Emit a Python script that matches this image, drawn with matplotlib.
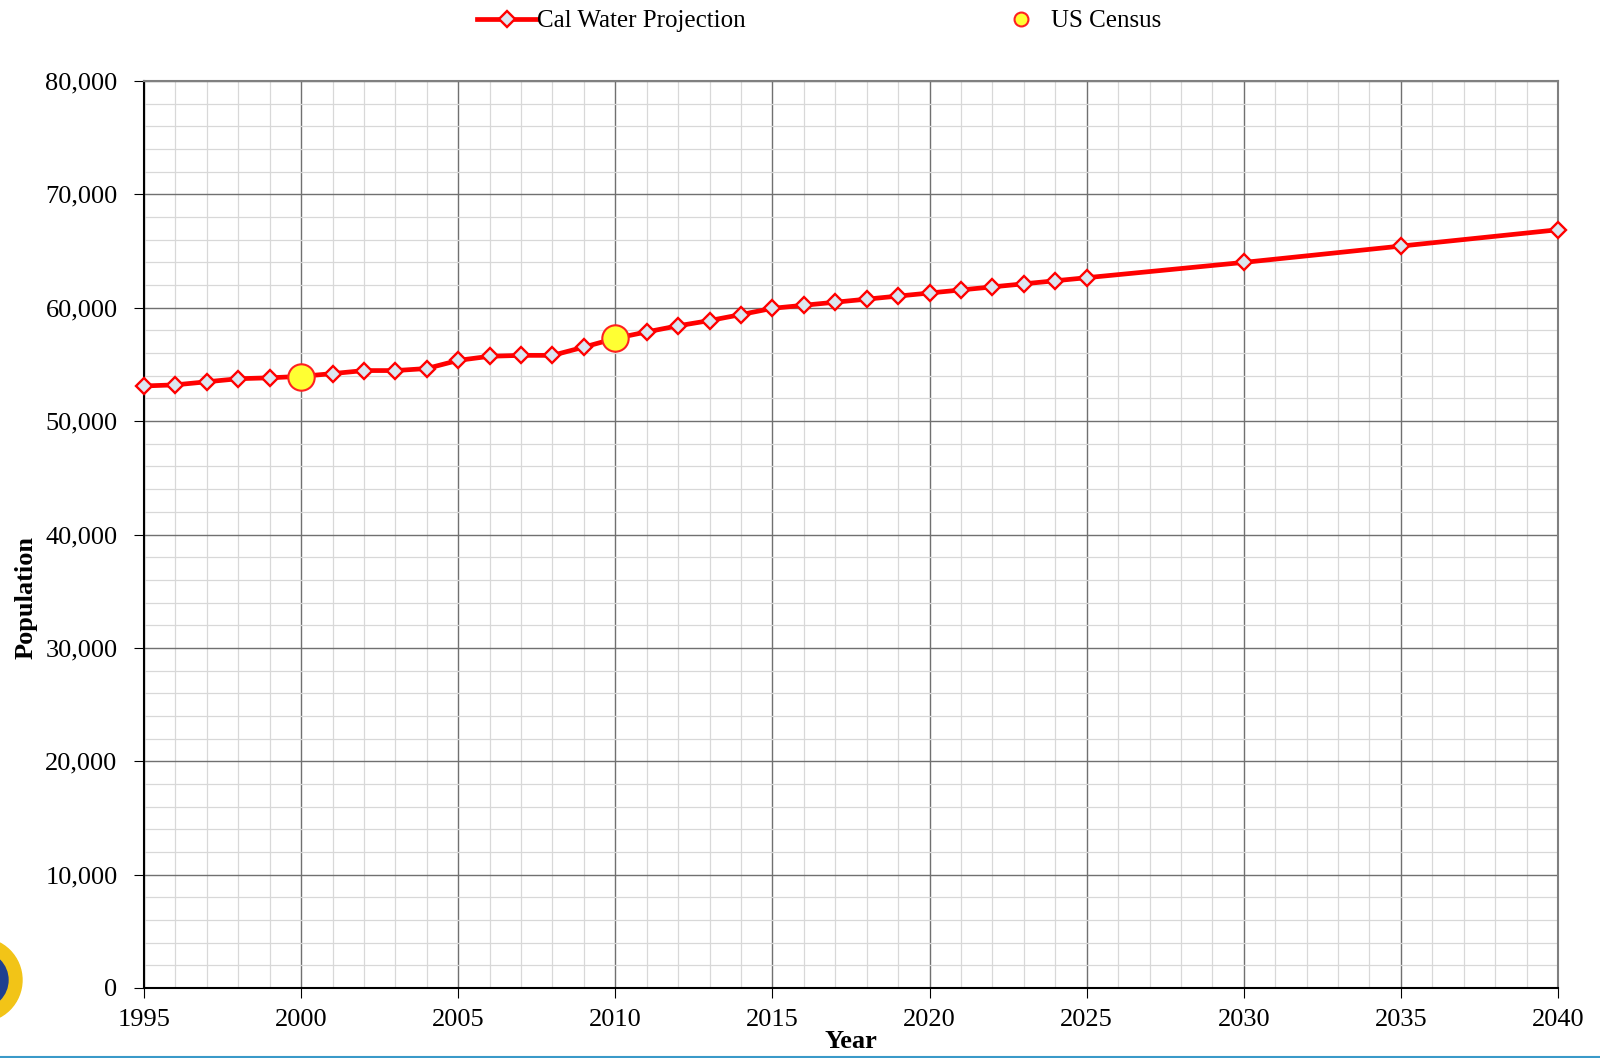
import matplotlib
matplotlib.use("Agg")
import matplotlib.pyplot as plt
from matplotlib.ticker import MultipleLocator, FuncFormatter
from matplotlib.patches import Circle
from matplotlib.lines import Line2D

proj_years = [1995, 1996, 1997, 1998, 1999, 2000, 2001, 2002, 2003, 2004,
              2005, 2006, 2007, 2008, 2009, 2010, 2011, 2012, 2013, 2014,
              2015, 2016, 2017, 2018, 2019, 2020, 2021, 2022, 2023, 2024,
              2025, 2030, 2035, 2040]
proj_pop = [53100, 53200, 53470, 53740, 53820, 53950, 54190, 54460, 54460, 54640,
            55360, 55720, 55800, 55800, 56530, 57300, 57870, 58410, 58870, 59400,
            59950, 60220, 60490, 60760, 61030, 61300, 61570, 61840, 62110, 62380,
            62650, 64000, 65440, 66880]
census_years = [2000, 2010]
census_pop = [53900, 57330]

plt.rcParams['font.family'] = ['Liberation Serif', 'DejaVu Serif']

fig = plt.figure(figsize=(16, 10.58), dpi=100)
ax = fig.add_axes([144/1600, 1 - 988/1058, (1558-144)/1600, (988-81)/1058])

ax.plot(proj_years, proj_pop, color='#ff0000', lw=3.4, marker='D', ms=8,
        mfc='#dce6f0', mec='#ff0000', mew=1.7, zorder=3, clip_on=False,
        label='Cal Water Projection')
ax.plot(census_years, census_pop, ls='none', marker='o', ms=19,
        mfc='#ffff33', mec='#ff2020', mew=1.5, zorder=4, clip_on=False,
        label='US Census')

ax.set_xlim(1995, 2040)
ax.set_ylim(0, 80000)
ax.xaxis.set_major_locator(MultipleLocator(5))
ax.xaxis.set_minor_locator(MultipleLocator(1))
ax.yaxis.set_major_locator(MultipleLocator(10000))
ax.yaxis.set_minor_locator(MultipleLocator(2000))
ax.yaxis.set_major_formatter(FuncFormatter(lambda v, p: f"{int(v):,}"))
ax.grid(which='major', color='#707070', lw=1.0, zorder=0)
ax.grid(which='minor', color='#d8d8d8', lw=0.9, zorder=0)
ax.set_axisbelow(True)
ax.tick_params(which='major', direction='out', length=7, labelsize=19, color='black')
ax.tick_params(which='minor', length=0)
ax.tick_params(axis='x', pad=8)
ax.tick_params(axis='y', pad=12)
for s in ['top', 'right']:
    ax.spines[s].set_color('#808080')
    ax.spines[s].set_linewidth(1.5)
for s in ['left', 'bottom']:
    ax.spines[s].set_color('black')
    ax.spines[s].set_linewidth(1.5)

ax.set_xlabel('Year', fontsize=19, fontweight='bold')
ax.set_ylabel('Population', fontsize=19, fontweight='bold')
ax.xaxis.set_label_coords(0.5, -0.046)
ax.yaxis.set_label_coords(-0.075, 0.43)

h1 = Line2D([], [], color='#ff0000', lw=3.4, marker='D', ms=8, mfc='#dce6f0', mec='#ff0000', mew=1.7)
h2 = Line2D([], [], ls='none', marker='o', ms=10, mfc='#ffff33', mec='#ff2020', mew=1.5)
leg = fig.legend([h1, h2], ['Cal Water Projection', 'US Census'], loc='upper center',
                 bbox_to_anchor=(0.512, 1.012), ncol=2, frameon=False, fontsize=18,
                 columnspacing=9.8, handlelength=2.4, handletextpad=0.0)

# partial logo at bottom left
logo_ax = fig.add_axes([0, 0, 1, 1], zorder=-1)
logo_ax.set_xlim(0, 1600)
logo_ax.set_ylim(1058, 0)
logo_ax.axis('off')
logo_ax.add_patch(Circle((-20, 980), 42, color='#f2c417'))
logo_ax.add_patch(Circle((-20, 980), 28, color='#1f3f8f'))
logo_ax.plot([0, 1600], [1057, 1057], color='#3a9ac9', lw=1.5)

fig.savefig('out.png', dpi=100)
